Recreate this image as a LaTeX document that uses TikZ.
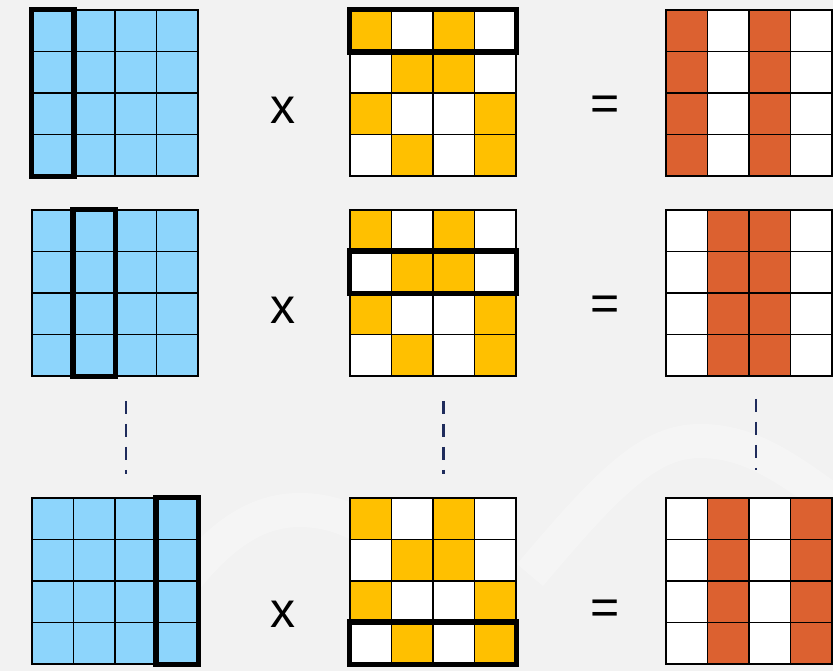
\documentclass[tikz,border=0pt]{standalone}
\usepackage{fontspec}
\setmainfont{Liberation Sans}
\usetikzlibrary{positioning, fit, backgrounds}

\definecolor{bgGray}{HTML}{F2F2F2}
\definecolor{cellBlue}{HTML}{8DD5FC}
\definecolor{cellYellow}{HTML}{FFC000}
\definecolor{cellOrange}{HTML}{DC6130}
\definecolor{dashNavy}{HTML}{1F2C5C}

% yellow pattern of the right-hand matrix, row by row
\def\ypat{{1,0,1,0, 0,1,1,0, 1,0,0,1, 0,1,0,1}}

\begin{document}
\begin{tikzpicture}[
    x=1pt, y=-1pt,
    cell/.style={rectangle, draw=black, line width=1.4pt, fill=white, minimum size=41.5pt, inner sep=0pt},
    cellA/.style={cell, fill=cellBlue},
    cellB0/.style={cell},
    cellB1/.style={cell, fill=cellYellow},
    cellC0/.style={cell},
    cellC1/.style={cell, fill=cellOrange},
    frame/.style={rectangle, inner sep=0pt},
    hlbox/.style={rectangle, draw=black, line width=5.5pt, inner sep=0pt},
    op/.style={font=\fontsize{50}{50}\selectfont, inner sep=0pt},
    gapline/.style={draw=dashNavy, line width=2.6pt, dash pattern=on 13pt off 10pt},
    swoosh/.style={draw=white, opacity=0.3, line width=34pt}
]

\fill[bgGray] (0,0) rectangle (833,671);
\useasboundingbox (0,0) rectangle (833,671);

% faint watermark strokes
\draw[swoosh] (530,575) .. controls (610,480) and (650,441) .. (700,441)
    .. controls (760,441) and (800,480) .. (860,520);
\draw[swoosh] (170,600) .. controls (220,530) and (260,510) .. (300,510)
    .. controls (350,510) and (390,540) .. (430,580);

\foreach \k/\yo/\h in {1/10/0, 2/210/1, 3/498/3} {
    \foreach \r in {0,...,3} {
        \foreach \c in {0,...,3} {
            \pgfmathsetmacro{\cx}{20.75 + 41.5 * \c}
            \pgfmathsetmacro{\cy}{\yo + 20.75 + 41.5 * \r}
            \pgfmathtruncatemacro{\isY}{\ypat[4*\r+\c]}
            \pgfmathtruncatemacro{\isO}{\ypat[4*\h+\c]}
            \node[cellA] (a\k-\r-\c) at (32+\cx, \cy) {};
            \node[cellB\isY] (b\k-\r-\c) at (350+\cx, \cy) {};
            \node[cellC\isO] (c\k-\r-\c) at (666+\cx, \cy) {};
        }
    }
    \node[frame, fit=(a\k-0-0)(a\k-3-3)] (gA\k) {};
    \node[frame, fit=(b\k-0-0)(b\k-3-3)] (gB\k) {};
    \node[frame, fit=(c\k-0-0)(c\k-3-3)] (gC\k) {};

    % column of the left matrix, row of the right matrix
    \node[hlbox, fit=(a\k-0-\h)(a\k-3-\h)] (colA\k) {};
    \node[hlbox, fit=(b\k-\h-0)(b\k-\h-3)] (rowB\k) {};
}

\node[op] (times1) at (283,110) {x};
\node[op] (times2) at (283,310) {x};
\node[op] (times3) at (283,614) {x};
\node[op] (eq1) at (605,108) {=};
\node[op] (eq2) at (605,308) {=};
\node[op] (eq3) at (605,612) {=};

\draw[gapline] ([xshift=11pt, yshift=-24pt]gA2.south) -- ([xshift=11pt, yshift=23pt]gA3.north);
\draw[gapline] ([xshift=10.5pt, yshift=-24pt]gB2.south) -- ([xshift=10.5pt, yshift=23pt]gB3.north);
\draw[gapline] ([xshift=7pt, yshift=-22pt]gC2.south) -- ([xshift=7pt, yshift=27pt]gC3.north);
\end{tikzpicture}
\end{document}
